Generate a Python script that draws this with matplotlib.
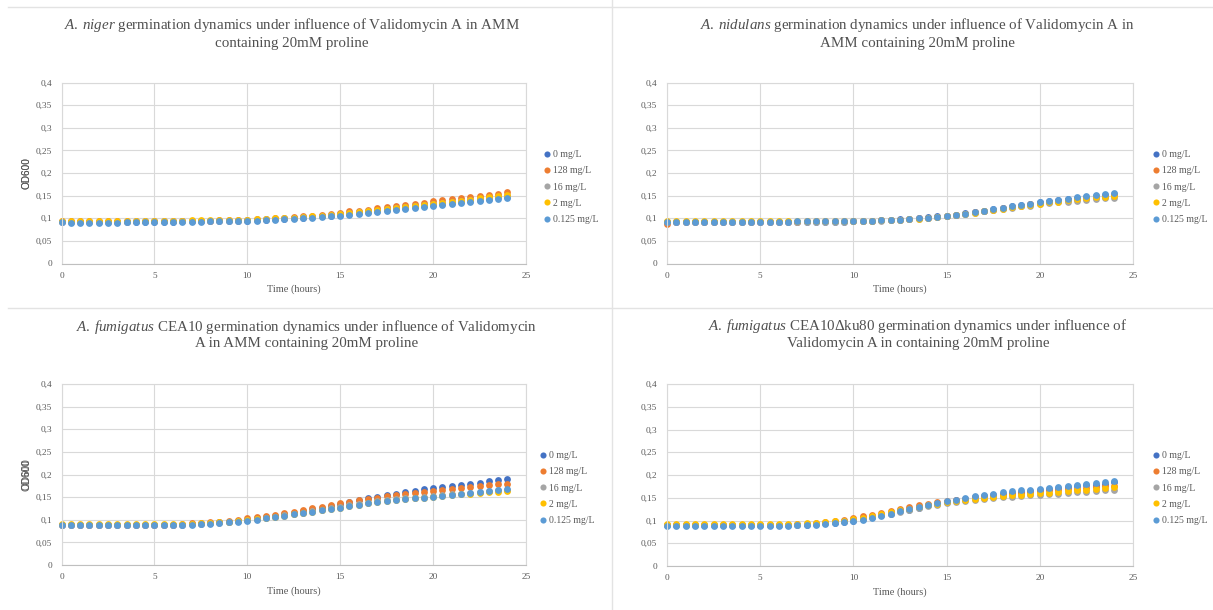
import matplotlib
matplotlib.use("Agg")
import matplotlib.pyplot as plt
from matplotlib.lines import Line2D
from matplotlib.ticker import FuncFormatter, MultipleLocator

# tiempos de medida (horas)
tiempo = [0, 0.5, 1, 1.5, 2, 2.5, 3, 3.5, 4, 4.5, 5, 5.5, 6, 6.5, 7, 7.5, 8, 8.5, 9, 9.5,
          10, 10.5, 11, 11.5, 12, 12.5, 13, 13.5, 14, 14.5, 15, 15.5, 16, 16.5, 17, 17.5,
          18, 18.5, 19, 19.5, 20, 20.5, 21, 21.5, 22, 22.5, 23, 23.5, 24]

etiquetas = ["0 mg/L", "128 mg/L", "16 mg/L", "2 mg/L", "0.125 mg/L"]
colores = ["#4472C4", "#ED7D31", "#A5A5A5", "#FFC000", "#5B9BD5"]

# A. niger
niger_0 = [0.091, 0.091, 0.091, 0.091, 0.091, 0.091, 0.091, 0.091, 0.092, 0.092, 0.092, 0.092, 0.092, 0.093, 0.093, 0.093, 0.093, 0.094, 0.094, 0.094,
           0.095, 0.096, 0.097, 0.098, 0.099, 0.100, 0.101, 0.102, 0.104, 0.106, 0.108, 0.110, 0.112, 0.114, 0.116, 0.118, 0.120, 0.123, 0.125, 0.127, 0.129, 0.132, 0.134, 0.136, 0.138, 0.141, 0.143, 0.146, 0.148]
niger_128 = [0.093, 0.093, 0.093, 0.093, 0.093, 0.093, 0.093, 0.093, 0.093, 0.094, 0.094, 0.094, 0.094, 0.094, 0.095, 0.095, 0.095, 0.096, 0.096, 0.097,
             0.097, 0.098, 0.099, 0.100, 0.101, 0.102, 0.104, 0.106, 0.108, 0.110, 0.112, 0.115, 0.117, 0.119, 0.122, 0.124, 0.127, 0.129, 0.132, 0.134, 0.138, 0.140, 0.142, 0.144, 0.147, 0.149, 0.152, 0.154, 0.157]
niger_16 = [0.092, 0.092, 0.092, 0.092, 0.092, 0.092, 0.092, 0.092, 0.093, 0.093, 0.093, 0.093, 0.093, 0.093, 0.094, 0.094, 0.094, 0.095, 0.095, 0.095,
            0.096, 0.097, 0.098, 0.099, 0.100, 0.101, 0.102, 0.103, 0.105, 0.107, 0.109, 0.111, 0.113, 0.115, 0.117, 0.120, 0.122, 0.124, 0.126, 0.129, 0.131, 0.133, 0.135, 0.138, 0.140, 0.142, 0.145, 0.147, 0.150]
niger_2 = [0.094, 0.094, 0.094, 0.094, 0.094, 0.094, 0.094, 0.095, 0.095, 0.095, 0.095, 0.095, 0.095, 0.095, 0.096, 0.096, 0.096, 0.096, 0.097, 0.097,
           0.097, 0.098, 0.099, 0.100, 0.100, 0.101, 0.103, 0.104, 0.106, 0.108, 0.110, 0.112, 0.114, 0.116, 0.118, 0.121, 0.123, 0.125, 0.128, 0.130, 0.132, 0.134, 0.137, 0.139, 0.141, 0.144, 0.146, 0.149, 0.152]
niger_0125 = [0.091, 0.090, 0.090, 0.090, 0.090, 0.090, 0.090, 0.091, 0.091, 0.091, 0.091, 0.092, 0.092, 0.092, 0.092, 0.092, 0.093, 0.093, 0.094, 0.094,
              0.095, 0.095, 0.096, 0.097, 0.098, 0.099, 0.100, 0.101, 0.103, 0.104, 0.106, 0.108, 0.110, 0.112, 0.114, 0.116, 0.118, 0.120, 0.122, 0.125, 0.127, 0.129, 0.131, 0.134, 0.136, 0.138, 0.140, 0.143, 0.145]

# A. nidulans
nid_0 = [0.092, 0.092, 0.092, 0.092, 0.092, 0.092, 0.092, 0.092, 0.092, 0.092, 0.092, 0.092, 0.092, 0.092, 0.092, 0.092, 0.092, 0.092, 0.092, 0.092,
         0.094, 0.094, 0.095, 0.096, 0.097, 0.098, 0.099, 0.100, 0.102, 0.104, 0.106, 0.108, 0.111, 0.114, 0.117, 0.120, 0.123, 0.126, 0.129, 0.132, 0.135, 0.138, 0.140, 0.143, 0.145, 0.148, 0.150, 0.152, 0.154]
nid_128 = [0.088, 0.091, 0.091, 0.091, 0.091, 0.091, 0.091, 0.092, 0.092, 0.092, 0.092, 0.092, 0.092, 0.092, 0.092, 0.093, 0.093, 0.093, 0.093, 0.093,
           0.094, 0.094, 0.095, 0.096, 0.097, 0.097, 0.098, 0.100, 0.101, 0.103, 0.106, 0.108, 0.110, 0.113, 0.116, 0.119, 0.122, 0.125, 0.128, 0.131, 0.133, 0.136, 0.138, 0.141, 0.143, 0.145, 0.147, 0.149, 0.151]
nid_16 = [0.091, 0.091, 0.091, 0.091, 0.091, 0.091, 0.091, 0.091, 0.091, 0.091, 0.091, 0.091, 0.091, 0.091, 0.092, 0.092, 0.092, 0.092, 0.092, 0.092,
          0.093, 0.093, 0.094, 0.095, 0.096, 0.097, 0.098, 0.099, 0.101, 0.103, 0.105, 0.107, 0.109, 0.112, 0.115, 0.118, 0.121, 0.123, 0.126, 0.128, 0.131, 0.133, 0.135, 0.137, 0.139, 0.141, 0.142, 0.144, 0.145]
nid_2 = [0.094, 0.093, 0.093, 0.093, 0.093, 0.093, 0.093, 0.093, 0.093, 0.093, 0.093, 0.093, 0.093, 0.093, 0.093, 0.093, 0.093, 0.093, 0.093, 0.093,
         0.094, 0.094, 0.095, 0.096, 0.096, 0.097, 0.098, 0.099, 0.101, 0.103, 0.105, 0.107, 0.110, 0.112, 0.115, 0.118, 0.121, 0.124, 0.127, 0.130, 0.132, 0.135, 0.137, 0.140, 0.142, 0.144, 0.146, 0.148, 0.150]
nid_0125 = [0.092, 0.092, 0.092, 0.092, 0.092, 0.092, 0.092, 0.092, 0.092, 0.092, 0.092, 0.092, 0.092, 0.092, 0.093, 0.093, 0.093, 0.093, 0.093, 0.093,
            0.094, 0.094, 0.095, 0.096, 0.097, 0.097, 0.098, 0.100, 0.101, 0.103, 0.106, 0.108, 0.110, 0.113, 0.117, 0.120, 0.123, 0.126, 0.129, 0.132, 0.135, 0.138, 0.141, 0.143, 0.146, 0.149, 0.151, 0.154, 0.156]

# A. fumigatus CEA10
cea_0 = [0.089, 0.089, 0.089, 0.089, 0.089, 0.089, 0.089, 0.089, 0.089, 0.089, 0.089, 0.089, 0.089,
         0.089, 0.090, 0.091, 0.093, 0.094, 0.096, 0.098, 0.100, 0.103, 0.106, 0.109, 0.112, 0.116, 0.119, 0.123, 0.127, 0.131, 0.135,
         0.139, 0.143, 0.147, 0.151, 0.155, 0.158, 0.161, 0.164, 0.167, 0.170, 0.172, 0.175, 0.177, 0.180, 0.182, 0.185, 0.188, 0.191]
cea_128 = [0.089, 0.089, 0.089, 0.089, 0.089, 0.089, 0.089, 0.089, 0.089, 0.089, 0.089, 0.089, 0.089,
           0.091, 0.092, 0.093, 0.095, 0.096, 0.098, 0.100, 0.103, 0.105, 0.108, 0.111, 0.114, 0.118, 0.121, 0.125, 0.129, 0.133, 0.137,
           0.140, 0.143, 0.146, 0.149, 0.152, 0.155, 0.157, 0.160, 0.162, 0.164, 0.166, 0.168, 0.170, 0.172, 0.174, 0.176, 0.178, 0.180]
cea_16 = [0.089, 0.089, 0.089, 0.089, 0.089, 0.089, 0.089, 0.089, 0.089, 0.089, 0.089, 0.089, 0.089,
          0.089, 0.090, 0.091, 0.092, 0.093, 0.095, 0.097, 0.099, 0.101, 0.104, 0.107, 0.110, 0.113, 0.116, 0.119, 0.122, 0.126, 0.129,
          0.132, 0.135, 0.138, 0.141, 0.143, 0.145, 0.147, 0.149, 0.151, 0.153, 0.154, 0.156, 0.158, 0.159, 0.161, 0.163, 0.165, 0.166]
cea_2 = [0.090, 0.090, 0.090, 0.090, 0.090, 0.090, 0.090, 0.090, 0.090, 0.090, 0.090, 0.090, 0.090,
         0.090, 0.091, 0.092, 0.093, 0.094, 0.095, 0.097, 0.099, 0.101, 0.103, 0.106, 0.109, 0.112, 0.115, 0.118, 0.121, 0.124, 0.127,
         0.130, 0.133, 0.136, 0.139, 0.141, 0.143, 0.145, 0.147, 0.149, 0.151, 0.152, 0.154, 0.156, 0.157, 0.159, 0.161, 0.162, 0.164]
cea_0125 = [0.088, 0.088, 0.088, 0.088, 0.088, 0.088, 0.088, 0.088, 0.088, 0.088, 0.088, 0.088, 0.088,
            0.088, 0.089, 0.090, 0.091, 0.092, 0.094, 0.096, 0.098, 0.100, 0.103, 0.106, 0.109, 0.112, 0.115, 0.118, 0.121, 0.124, 0.127,
            0.130, 0.133, 0.136, 0.139, 0.141, 0.143, 0.145, 0.147, 0.149, 0.151, 0.153, 0.155, 0.157, 0.159, 0.161, 0.163, 0.165, 0.167]

# A. fumigatus CEA10 ku80
ku_0 = [0.090, 0.090, 0.090, 0.090, 0.090, 0.090, 0.090, 0.090, 0.090, 0.090, 0.090, 0.090, 0.090, 0.090,
        0.091, 0.091, 0.092, 0.094, 0.095, 0.097, 0.100, 0.103, 0.107, 0.111, 0.115, 0.120, 0.124, 0.128, 0.133, 0.137, 0.141,
        0.145, 0.148, 0.151, 0.154, 0.157, 0.159, 0.161, 0.163, 0.165, 0.167, 0.169, 0.171, 0.173, 0.175, 0.177, 0.179, 0.181, 0.184]
ku_128 = [0.090, 0.090, 0.090, 0.090, 0.090, 0.090, 0.090, 0.090, 0.090, 0.090, 0.090, 0.090, 0.090, 0.090,
          0.092, 0.093, 0.095, 0.097, 0.099, 0.102, 0.105, 0.109, 0.113, 0.117, 0.121, 0.126, 0.130, 0.134, 0.137, 0.140, 0.143,
          0.146, 0.148, 0.151, 0.153, 0.155, 0.157, 0.159, 0.161, 0.162, 0.164, 0.166, 0.167, 0.169, 0.170, 0.172, 0.173, 0.175, 0.176]
ku_16 = [0.091, 0.091, 0.091, 0.091, 0.091, 0.091, 0.091, 0.091, 0.091, 0.091, 0.091, 0.091, 0.091, 0.091,
         0.091, 0.092, 0.093, 0.094, 0.096, 0.098, 0.101, 0.104, 0.107, 0.111, 0.115, 0.119, 0.123, 0.127, 0.131, 0.135, 0.138,
         0.141, 0.143, 0.145, 0.147, 0.149, 0.151, 0.152, 0.154, 0.155, 0.156, 0.158, 0.159, 0.160, 0.162, 0.163, 0.164, 0.166, 0.167]
ku_2 = [0.093, 0.093, 0.093, 0.093, 0.093, 0.093, 0.093, 0.093, 0.093, 0.093, 0.093, 0.093, 0.093, 0.093,
        0.093, 0.094, 0.095, 0.096, 0.098, 0.100, 0.103, 0.106, 0.110, 0.114, 0.118, 0.122, 0.126, 0.130, 0.133, 0.137, 0.140,
        0.143, 0.145, 0.147, 0.149, 0.151, 0.153, 0.155, 0.156, 0.158, 0.160, 0.161, 0.163, 0.164, 0.166, 0.168, 0.170, 0.172, 0.174]
ku_0125 = [0.089, 0.089, 0.089, 0.089, 0.089, 0.089, 0.089, 0.089, 0.089, 0.089, 0.089, 0.089, 0.089, 0.089,
           0.090, 0.090, 0.091, 0.093, 0.094, 0.096, 0.099, 0.102, 0.106, 0.110, 0.115, 0.120, 0.125, 0.129, 0.134, 0.138, 0.142,
           0.146, 0.150, 0.153, 0.156, 0.159, 0.162, 0.164, 0.166, 0.168, 0.170, 0.172, 0.174, 0.176, 0.178, 0.180, 0.182, 0.184, 0.187]

W, H = 1213, 610
plt.rcParams["font.family"] = "Liberation Serif"
plt.rcParams["mathtext.fontset"] = "custom"
plt.rcParams["mathtext.rm"] = "Liberation Serif"
plt.rcParams["mathtext.it"] = "Liberation Serif:italic"

fig = plt.figure(figsize=(W / 100, H / 100), dpi=100)
fig.patch.set_facecolor("white")

# lineas separadoras entre los cuatro graficos
sep = "#e3e3e3"
fig.add_artist(Line2D([8 / W, 1], [1 - 7 / H, 1 - 7 / H], color=sep, lw=1))
fig.add_artist(Line2D([8 / W, 1], [1 - 308 / H, 1 - 308 / H], color=sep, lw=1))
fig.add_artist(Line2D([612 / W, 612 / W], [0, 1], color=sep, lw=1))

# (izq, der, arriba, abajo) en pixeles, titulo (x, y1, y2), leyenda (x, y)
paneles = [
    dict(series=[niger_0, niger_128, niger_16, niger_2, niger_0125],
         caja=(61.5, 526, 82.5, 263.5),
         t1=r"$\mathit{A.\:niger}$ germination dynamics under influence of Validomycin A in AMM",
         t2="containing 20mM proline", tx=292, ty=(25, 43), ley=(544, 150)),
    dict(series=[nid_0, nid_128, nid_16, nid_2, nid_0125],
         caja=(667, 1133, 82.5, 263.5),
         t1=r"$\mathit{A.\:nidulans}$ germination dynamics under influence of Validomycin A in",
         t2="AMM containing 20mM proline", tx=917, ty=(25, 43), ley=(1153, 150)),
    dict(series=[cea_0, cea_128, cea_16, cea_2, cea_0125],
         caja=(61.5, 526, 384, 565),
         t1=r"$\mathit{A.\:fumigatus}$ CEA10 germination dynamics under influence of Validomycin",
         t2="A in AMM containing 20mM proline", tx=307, ty=(327, 344), ley=(540, 451)),
    dict(series=[ku_0, ku_128, ku_16, ku_2, ku_0125],
         caja=(667, 1133, 384, 566),
         t1=r"$\mathit{A.\:fumigatus}$ CEA10Δku80 germination dynamics under influence of",
         t2="Validomycin A in containing 20mM proline", tx=918, ty=(326, 344), ley=(1153, 451)),
]

coma = FuncFormatter(lambda v, p: f"{v:g}".replace(".", ","))

for p in paneles:
    izq, der, arr, aba = p["caja"]
    ax = fig.add_axes([izq / W, 1 - aba / H, (der - izq) / W, (aba - arr) / H])
    for datos, etiqueta, color in zip(p["series"], etiquetas, colores):
        ax.plot(tiempo, datos, "o", ms=4.9, mew=0, color=color, label=etiqueta, clip_on=False)
    ax.set_xlim(0, 25)
    ax.set_ylim(0, 0.4)
    ax.xaxis.set_major_locator(MultipleLocator(5))
    ax.yaxis.set_major_locator(MultipleLocator(0.05))
    ax.yaxis.set_major_formatter(coma)
    ax.grid(True, color="#d9d9d9", lw=0.8)
    ax.set_axisbelow(True)
    for lado in ["left", "top", "right"]:
        ax.spines[lado].set_color("#d9d9d9")
        ax.spines[lado].set_linewidth(0.8)
    ax.spines["bottom"].set_color("#bfbfbf")
    ax.spines["bottom"].set_linewidth(0.8)
    ax.tick_params(length=0, labelsize=6.7, colors="#595959")
    ax.tick_params(axis="y", pad=7)
    ax.tick_params(axis="x", pad=6)
    ax.set_ylabel("OD600", fontsize=7.2, color="#595959", family="Liberation Sans")
    ax.yaxis.set_label_coords(-(izq - 31) / (der - izq), 0.5)
    ax.set_xlabel("Time (hours)", fontsize=7.5, color="#595959")
    ax.xaxis.set_label_coords(0.5, -21 / (aba - arr))

    fig.text(p["tx"] / W, 1 - p["ty"][0] / H, p["t1"], ha="center", va="center",
             fontsize=10.8, color="#505050")
    fig.text(p["tx"] / W, 1 - p["ty"][1] / H, p["t2"], ha="center", va="center",
             fontsize=10.8, color="#505050")

    ax.legend(loc="upper left", bbox_to_anchor=(p["ley"][0] / W, 1 - p["ley"][1] / H),
              bbox_transform=fig.transFigure, frameon=False, fontsize=7,
              labelcolor="#595959", handlelength=0.6, handletextpad=0.3,
              labelspacing=0.75, borderpad=0, borderaxespad=0, markerscale=0.9)

fig.savefig("out.png", dpi=100)
